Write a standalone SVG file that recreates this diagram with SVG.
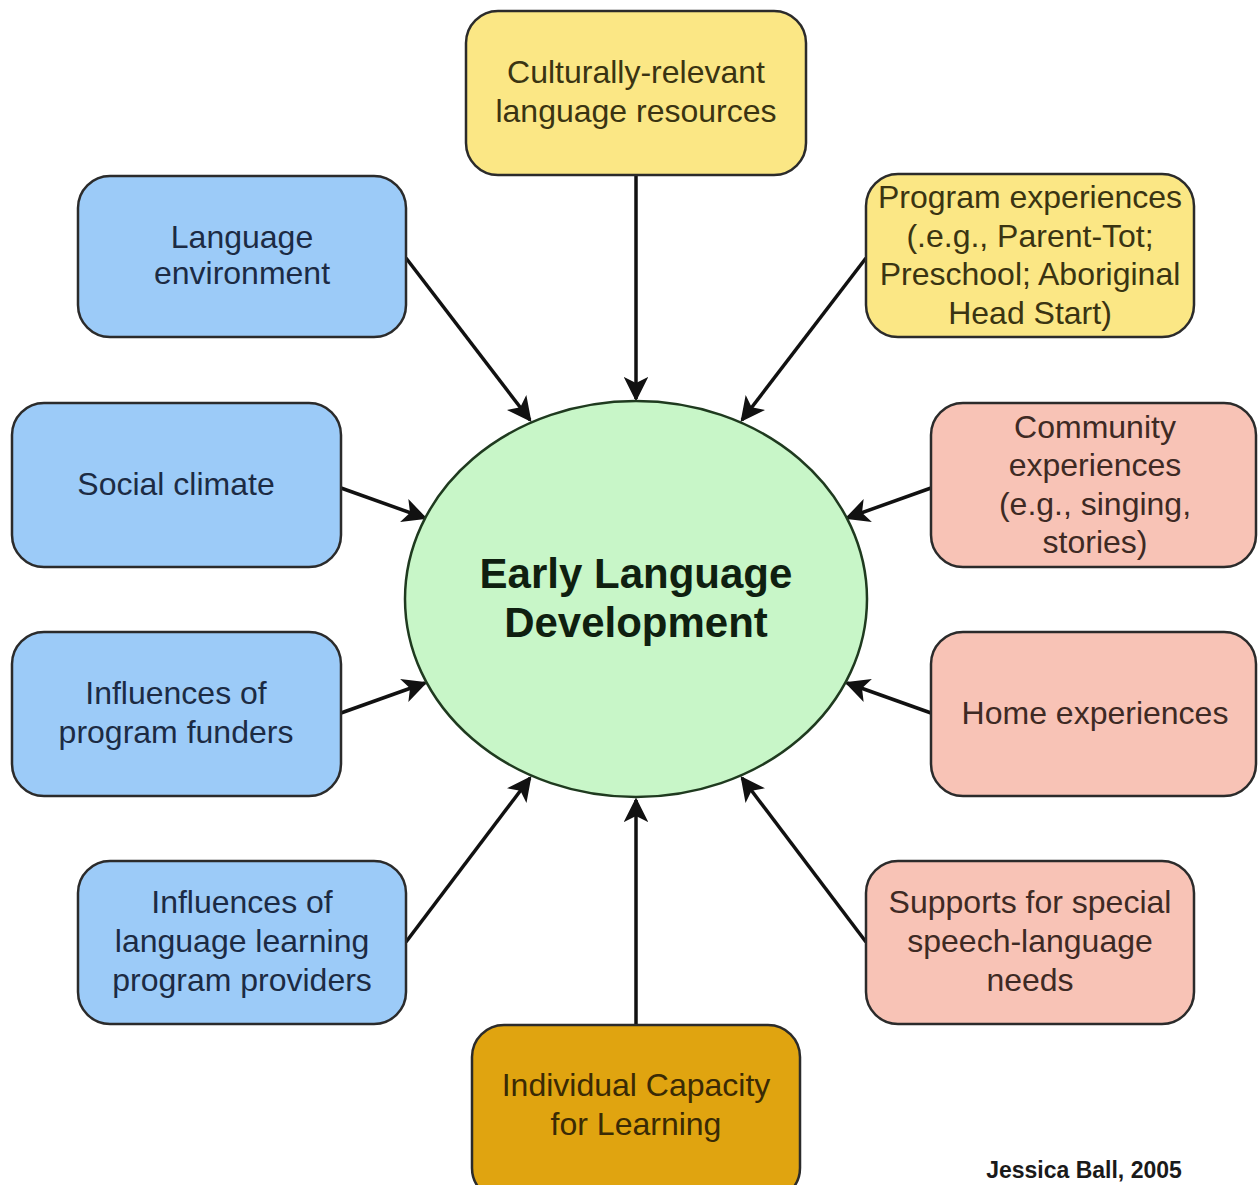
<svg xmlns="http://www.w3.org/2000/svg" width="1258" height="1185" viewBox="0 0 1258 1185">
<style>
.box{stroke:#2b2b2b;stroke-width:2.5}
.y{fill:#fbe785}
.b{fill:#9ccbf8}
.p{fill:#f8c3b6}
.o{fill:#e0a410}
.t{font-family:"Liberation Sans",Arial,sans-serif;font-size:32px;text-anchor:middle}
.ty{fill:#3a3412}
.tb{fill:#1c2b44}
.tp{fill:#3e2a24}
.to{fill:#3a2a05}
.c{stroke:#111;stroke-width:3.5;fill:none;marker-end:url(#ah)}
</style>
<defs>
<marker id="ah" viewBox="0 0 10 10" refX="9" refY="5" markerWidth="7" markerHeight="7" markerUnits="strokeWidth" orient="auto">
<path d="M0,0 L10,5 L0,10 L2.5,5 Z" fill="#111"/>
</marker>
</defs>
<rect width="1258" height="1185" fill="#ffffff"/>
<g id="connectors">
<line class="c" x1="636" y1="175" x2="636" y2="399"/>
<line class="c" x1="636" y1="1024" x2="636" y2="800"/>
<line class="c" x1="406" y1="258" x2="530" y2="420"/>
<line class="c" x1="866" y1="258" x2="742" y2="420"/>
<line class="c" x1="341" y1="488" x2="425" y2="518"/>
<line class="c" x1="931" y1="488" x2="847" y2="518"/>
<line class="c" x1="341" y1="713" x2="425" y2="683"/>
<line class="c" x1="931" y1="713" x2="847" y2="683"/>
<line class="c" x1="406" y1="942" x2="530" y2="778"/>
<line class="c" x1="866" y1="942" x2="742" y2="778"/>
</g>
<g id="center">
<ellipse cx="636" cy="599" rx="231" ry="198" fill="#c8f6c8" stroke="#1f3a1f" stroke-width="2.5"/>
<text x="636" y="588" font-family="Liberation Sans,Arial,sans-serif" font-size="42" font-weight="bold" text-anchor="middle" fill="#0f1f10">Early Language</text>
<text x="636" y="637" font-family="Liberation Sans,Arial,sans-serif" font-size="42" font-weight="bold" text-anchor="middle" fill="#0f1f10">Development</text>
</g>
<g id="culturally">
<rect class="box y" x="466" y="11" width="340" height="164" rx="32"/>
<text class="t ty" x="636" y="83">Culturally-relevant</text>
<text class="t ty" x="636" y="122">language resources</text>
</g>
<g id="program">
<rect class="box y" x="866" y="174" width="328" height="163" rx="32"/>
<text class="t ty" x="1030" y="208">Program experiences</text>
<text class="t ty" x="1030" y="247">(.e.g., Parent-Tot;</text>
<text class="t ty" x="1030" y="285">Preschool; Aboriginal</text>
<text class="t ty" x="1030" y="324">Head Start)</text>
</g>
<g id="langenv">
<rect class="box b" x="78" y="176" width="328" height="161" rx="32"/>
<text class="t tb" x="242" y="248">Language</text>
<text class="t tb" x="242" y="284">environment</text>
</g>
<g id="social">
<rect class="box b" x="12" y="403" width="329" height="164" rx="32"/>
<text class="t tb" x="176" y="495">Social climate</text>
</g>
<g id="community">
<rect class="box p" x="931" y="403" width="325" height="164" rx="32"/>
<text class="t tp" x="1095" y="438">Community</text>
<text class="t tp" x="1095" y="476">experiences</text>
<text class="t tp" x="1095" y="515">(e.g., singing,</text>
<text class="t tp" x="1095" y="553">stories)</text>
</g>
<g id="funders">
<rect class="box b" x="12" y="632" width="329" height="164" rx="32"/>
<text class="t tb" x="176" y="704">Influences of</text>
<text class="t tb" x="176" y="743">program funders</text>
</g>
<g id="home">
<rect class="box p" x="931" y="632" width="325" height="164" rx="32"/>
<text class="t tp" x="1095" y="724">Home experiences</text>
</g>
<g id="providers">
<rect class="box b" x="78" y="861" width="328" height="163" rx="32"/>
<text class="t tb" x="242" y="913">Influences of</text>
<text class="t tb" x="242" y="952">language learning</text>
<text class="t tb" x="242" y="991">program providers</text>
</g>
<g id="supports">
<rect class="box p" x="866" y="861" width="328" height="163" rx="32"/>
<text class="t tp" x="1030" y="913">Supports for special</text>
<text class="t tp" x="1030" y="952">speech-language</text>
<text class="t tp" x="1030" y="991">needs</text>
</g>
<g id="individual">
<rect class="box o" x="472" y="1025" width="328" height="175" rx="32"/>
<text class="t to" x="636" y="1096">Individual Capacity</text>
<text class="t to" x="636" y="1135">for Learning</text>
</g>
<text x="1084" y="1178" font-family="Liberation Sans,Arial,sans-serif" font-size="23" font-weight="bold" text-anchor="middle" fill="#1a1a1a">Jessica Ball, 2005</text>
</svg>
